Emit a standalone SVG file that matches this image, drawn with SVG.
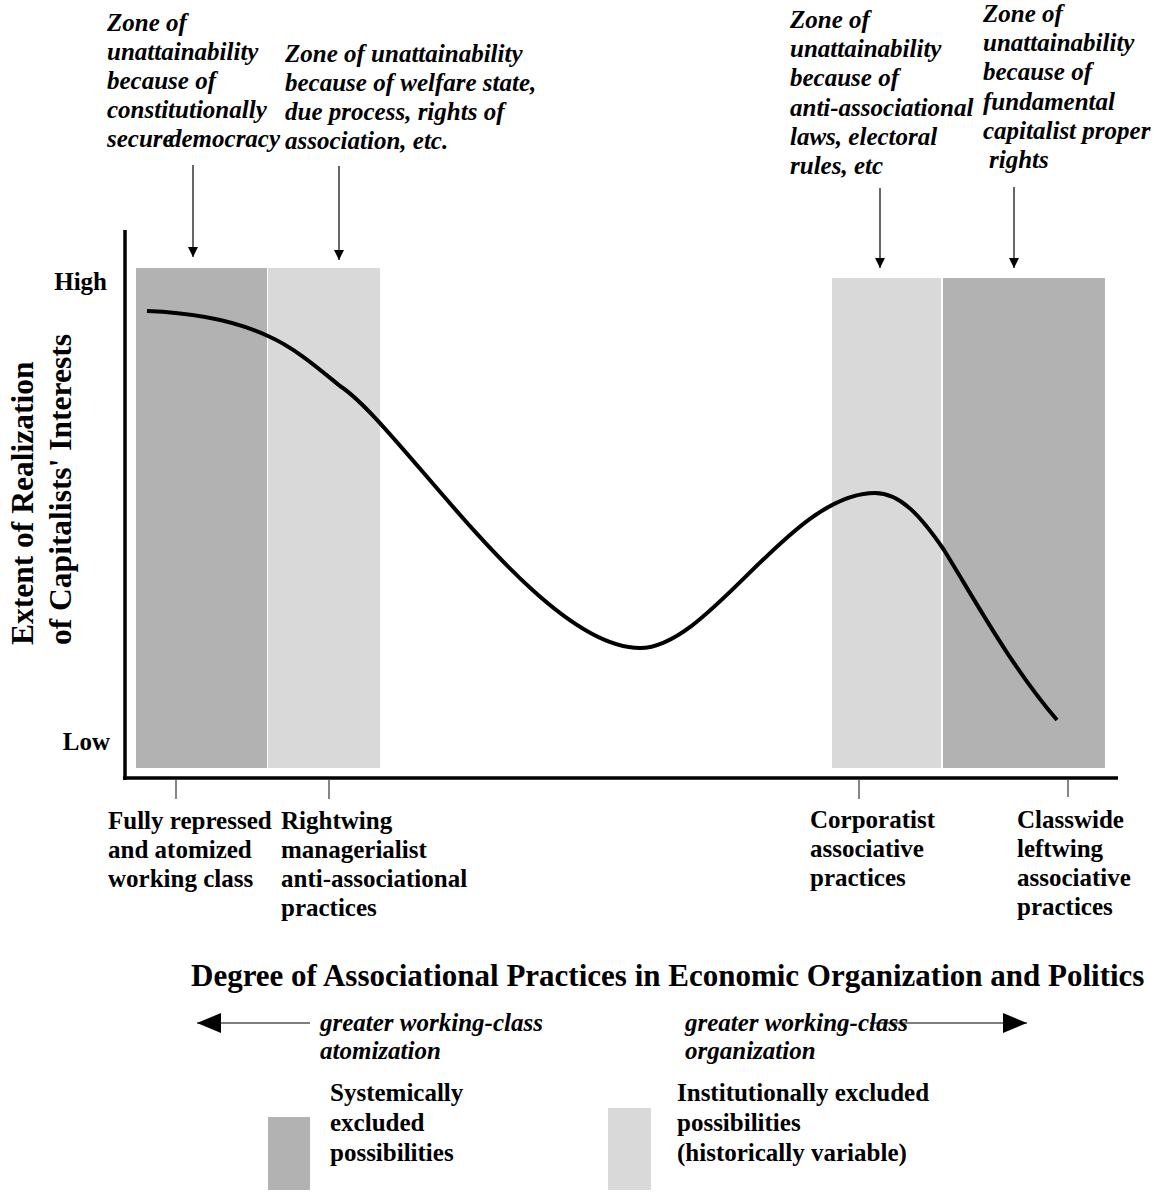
<svg xmlns="http://www.w3.org/2000/svg" width="1154" height="1197" viewBox="0 0 1154 1197">
<defs>
<style>
.t{font-family:"Liberation Serif","Times New Roman",serif;font-weight:bold;font-size:25px;fill:#000}
.i{font-style:italic}
.big{font-size:31.5px}
.title{font-size:31px}
.dark{fill:#b2b2b2}
.light{fill:#d9d9d9}
.axis{stroke:#000;stroke-width:3.5;fill:none}
.tick{stroke:#444;stroke-width:1.3}
.shaft{stroke:#000;stroke-width:1.2}
.curve{stroke:#000;stroke-width:4;fill:none;stroke-linecap:butt}
</style>
<marker id="ah" viewBox="0 0 10 10" refX="10" refY="5" markerWidth="10" markerHeight="10" markerUnits="userSpaceOnUse" orient="auto">
<path d="M0,0 L10,5 L0,10 Z" fill="#000"/>
</marker>
<marker id="bh" viewBox="0 0 24 20" refX="24" refY="10" markerWidth="24" markerHeight="20" markerUnits="userSpaceOnUse" orient="auto">
<path d="M0,0 L24,10 L0,20 Z" fill="#000"/>
</marker>
</defs>

<g id="zones">
<rect class="dark" x="136" y="268" width="131" height="500"/>
<rect class="light" x="268" y="268" width="112" height="500"/>
<rect class="light" x="832" y="278" width="109" height="490"/>
<rect class="dark" x="943" y="278" width="162" height="490"/>
</g>

<g id="axes">
<line class="axis" x1="125" y1="230" x2="125" y2="780"/>
<line class="axis" x1="123" y1="778" x2="1118" y2="778"/>
<line class="tick" x1="176" y1="780" x2="176" y2="799"/>
<line class="tick" x1="329" y1="780" x2="329" y2="799"/>
<line class="tick" x1="859" y1="780" x2="859" y2="799"/>
<line class="tick" x1="1068" y1="780" x2="1068" y2="797"/>
</g>

<g id="curve">
<path class="curve" d="M147,311 C200,313 240,323 268,336 C295,348 318,368 340,386 C400,425 540,648 640,648 C710,648 790,493 875,493 C900,493 920,515 944,550 C975,600 1010,665 1057,720"/>
</g>

<g id="connectors">
<line class="shaft" x1="193" y1="165" x2="193" y2="257" marker-end="url(#ah)"/>
<line class="shaft" x1="339" y1="166" x2="339" y2="260" marker-end="url(#ah)"/>
<line class="shaft" x1="880" y1="188" x2="880" y2="268" marker-end="url(#ah)"/>
<line class="shaft" x1="1014" y1="187" x2="1014" y2="268" marker-end="url(#ah)"/>
<line class="shaft" x1="310" y1="1023" x2="197" y2="1023" marker-end="url(#bh)"/>
<line class="shaft" x1="870" y1="1023" x2="1027" y2="1023" marker-end="url(#bh)"/>
</g>

<g id="zone1">
<text class="t i" x="107" y="31">Zone of</text>
<text class="t i" x="107" y="60">unattainability</text>
<text class="t i" x="107" y="89">because of</text>
<text class="t i" x="107" y="118">constitutionally</text>
<text class="t i" x="107" y="147">secure</text>
<text class="t i" x="169" y="147">democracy</text>
</g>
<g id="zone2">
<text class="t i" x="285" y="62">Zone of unattainability</text>
<text class="t i" x="285" y="91">because of welfare state,</text>
<text class="t i" x="285" y="120">due process, rights of</text>
<text class="t i" x="285" y="149">association, etc.</text>
</g>
<g id="zone3">
<text class="t i" x="790" y="28">Zone of</text>
<text class="t i" x="790" y="57">unattainability</text>
<text class="t i" x="790" y="86">because of</text>
<text class="t i" x="790" y="116">anti-associational</text>
<text class="t i" x="790" y="145">laws, electoral</text>
<text class="t i" x="790" y="174">rules, etc</text>
</g>
<g id="zone4">
<text class="t i" x="983" y="22">Zone of</text>
<text class="t i" x="983" y="51">unattainability</text>
<text class="t i" x="983" y="80">because of</text>
<text class="t i" x="983" y="110">fundamental</text>
<text class="t i" x="983" y="139">capitalist proper</text>
<text class="t i" x="989" y="168">rights</text>
</g>

<g id="ylabel">
<text class="t big" transform="translate(33,645) rotate(-90)">Extent of Realization</text>
<text class="t big" transform="translate(71,645) rotate(-90)">of Capitalists' Interests</text>
<text class="t" x="107" y="290" text-anchor="end">High</text>
<text class="t" x="110" y="750" text-anchor="end">Low</text>
</g>

<g id="label1">
<text class="t" x="108" y="829">Fully repressed</text>
<text class="t" x="108" y="858">and atomized</text>
<text class="t" x="108" y="887">working class</text>
</g>
<g id="label2">
<text class="t" x="281" y="829">Rightwing</text>
<text class="t" x="281" y="858">managerialist</text>
<text class="t" x="281" y="887">anti-associational</text>
<text class="t" x="281" y="916">practices</text>
</g>
<g id="label3">
<text class="t" x="810" y="828">Corporatist</text>
<text class="t" x="810" y="857">associative</text>
<text class="t" x="810" y="886">practices</text>
</g>
<g id="label4">
<text class="t" x="1017" y="828">Classwide</text>
<text class="t" x="1017" y="857">leftwing</text>
<text class="t" x="1017" y="886">associative</text>
<text class="t" x="1017" y="915">practices</text>
</g>

<g id="xtitle">
<text class="t title" x="191" y="986">Degree of Associational Practices in Economic Organization and Politics</text>
</g>
<g id="dir-left">
<text class="t i" x="320" y="1031">greater working-class</text>
<text class="t i" x="320" y="1059">atomization</text>
</g>
<g id="dir-right">
<text class="t i" x="685" y="1031">greater working-class</text>
<text class="t i" x="685" y="1059">organization</text>
</g>

<g id="legend-systemic">
<rect class="dark" x="268" y="1117" width="42" height="73"/>
<text class="t" x="330" y="1101">Systemically</text>
<text class="t" x="330" y="1131">excluded</text>
<text class="t" x="330" y="1161">possibilities</text>
</g>
<g id="legend-institutional">
<rect class="light" x="608" y="1108" width="43" height="82"/>
<text class="t" x="677" y="1101">Institutionally excluded</text>
<text class="t" x="677" y="1131">possibilities</text>
<text class="t" x="677" y="1161">(historically variable)</text>
</g>
</svg>
